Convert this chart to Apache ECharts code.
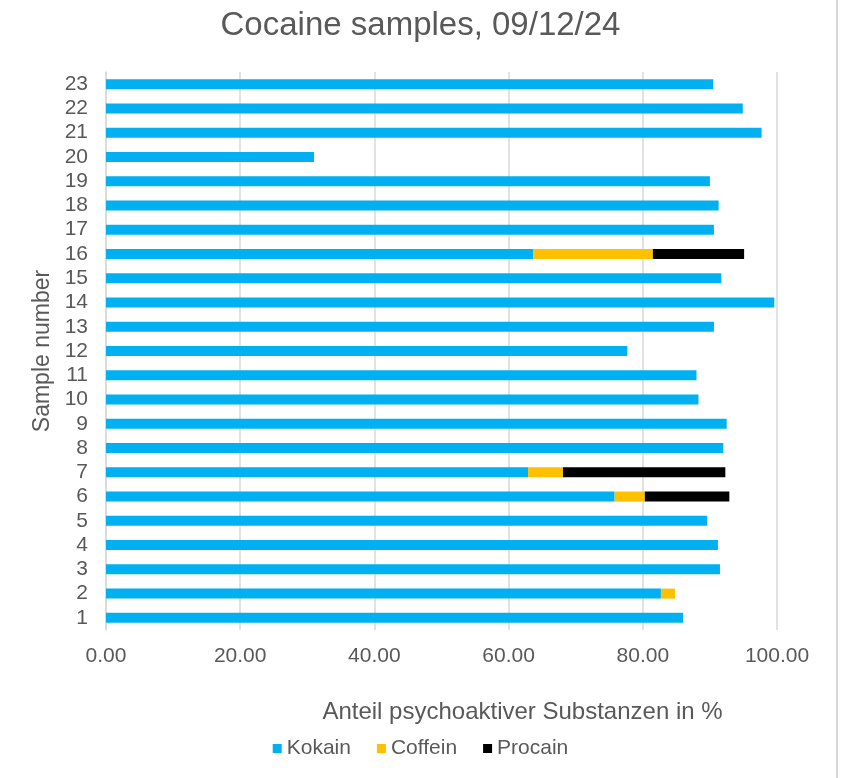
<!DOCTYPE html>
<html>
<head>
<meta charset="utf-8">
<script src="https://cdn.jsdelivr.net/npm/echarts@6/dist/echarts.min.js"></script>
<style>
  html, body { margin: 0; padding: 0; background: #fff; }
  #chart { width: 841px; height: 778px; }
</style>
</head>
<body>
<div id="chart"></div>
<script>
  // sample numbers, bottom to top
  var samples = ['1','2','3','4','5','6','7','8','9','10','11','12','13','14','15','16','17','18','19','20','21','22','23'];
  // share of each substance in %
  var kokain  = [86.0, 82.7, 91.5, 91.2, 89.6, 75.8, 62.9, 92.0, 92.5, 88.3, 88.0, 77.7, 90.6, 99.6, 91.7, 63.7, 90.6, 91.3, 90.0, 31.0, 97.7, 94.9, 90.5];
  var coffein = [0, 2.1, 0, 0, 0, 4.5, 5.2, 0, 0, 0, 0, 0, 0, 0, 0, 17.8, 0, 0, 0, 0, 0, 0, 0];
  var procain = [0, 0, 0, 0, 0, 12.6, 24.2, 0, 0, 0, 0, 0, 0, 0, 0, 13.6, 0, 0, 0, 0, 0, 0, 0];

  var textColor = '#595959';
  var gridColor = '#d9d9d9';
  var font = 'Liberation Sans, Arial, sans-serif';

  var chart = echarts.init(document.getElementById('chart'));

  function barSeries(name, data, color) {
    return {
      name: name,
      type: 'bar',
      stack: 'total',
      data: data,
      barWidth: 10,
      itemStyle: { color: color },
      emphasis: { disabled: true }
    };
  }

  chart.setOption({
    animation: false,
    textStyle: { fontFamily: font },
    title: {
      text: 'Cocaine samples, 09/12/24',
      left: 'center',
      top: 4,
      textStyle: { color: textColor, fontSize: 33, fontWeight: 'normal', fontFamily: font }
    },
    legend: {
      bottom: 14,
      left: 'center',
      itemWidth: 9,
      itemHeight: 9,
      itemGap: 26,
      icon: 'rect',
      textStyle: { color: textColor, fontSize: 21, fontFamily: font },
      data: ['Kokain', 'Coffein', 'Procain']
    },
    grid: { left: 106, right: 64, top: 72, bottom: 148 },
    xAxis: {
      type: 'value',
      min: 0,
      max: 100,
      interval: 20,
      name: 'Anteil psychoaktiver Substanzen in %',
      nameLocation: 'middle',
      nameGap: 70,
      nameTextStyle: { color: textColor, fontSize: 24, fontFamily: font, padding: [0, 0, 0, 162] },
      axisLine: { show: false },
      axisTick: { show: false },
      axisLabel: {
        color: textColor,
        fontSize: 21,
        margin: 16,
        formatter: function (v) { return v.toFixed(2); }
      },
      splitLine: { show: true, lineStyle: { color: gridColor, width: 1.5 } }
    },
    yAxis: {
      type: 'category',
      data: samples,
      name: 'Sample number',
      nameLocation: 'middle',
      nameGap: 52,
      nameTextStyle: { color: textColor, fontSize: 23, fontFamily: font },
      axisLine: { show: true, lineStyle: { color: gridColor, width: 1.5 } },
      axisTick: { show: false },
      axisLabel: { color: textColor, fontSize: 21, margin: 18, interval: 0 }
    },
    graphic: [{
      type: 'line',
      shape: { x1: 837, y1: 0, x2: 837, y2: 778 },
      style: { stroke: gridColor, lineWidth: 2 }
    }],
    series: [
      barSeries('Kokain', kokain, '#00b0f0'),
      barSeries('Coffein', coffein, '#ffc000'),
      barSeries('Procain', procain, '#000000')
    ]
  });
</script>
</body>
</html>
